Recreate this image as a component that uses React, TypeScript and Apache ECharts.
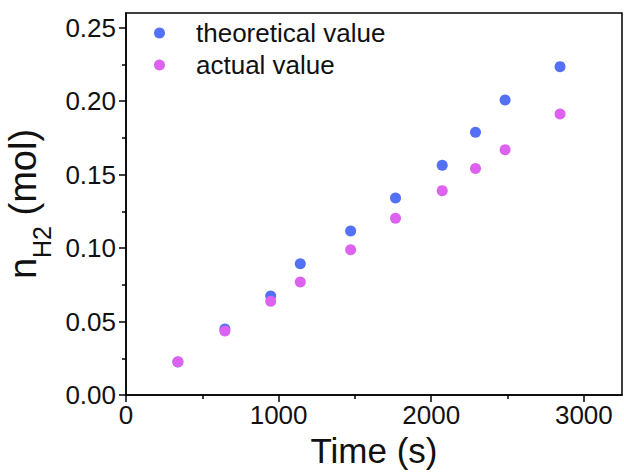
import React, { useEffect, useRef } from "react";
import * as echarts from "echarts";

const timeValues = [340, 648, 948, 1142, 1472, 1766, 2072, 2290, 2484, 2844];
const theoreticalValues = [0.0225, 0.0449, 0.0674, 0.0894, 0.1116, 0.1341, 0.1564, 0.1788, 0.2008, 0.2235];
const actualValues = [0.0227, 0.0436, 0.0638, 0.0769, 0.0989, 0.1203, 0.1391, 0.1541, 0.167, 0.1913];
const seriesNames = ["theoretical value", "actual value"];
const xMajorTicks = [0, 1000, 2000, 3000];
const xMinorTicks = [500, 1500, 2500];
const yMajorTicks = [0, 0.05, 0.1, 0.15, 0.2, 0.25];
const yMinorTicks = [0.025, 0.075, 0.125, 0.175, 0.225];

const FONT = "Liberation Sans, Arial, sans-serif";

export default function App() {
  const ref = useRef<HTMLDivElement>(null);
  useEffect(() => {
    if (!ref.current) return;
    const chart = echarts.init(ref.current, undefined, { renderer: "svg" });
    const axisLineStyle = { color: "#000", width: 1.5 };
    chart.setOption({
      animation: false,
      backgroundColor: "#fff",
      grid: {
        left: 126,
        right: 2,
        top: 13,
        bottom: 80,
        show: true,
        borderColor: "#000",
        borderWidth: 1.5,
        containLabel: false,
        outerBoundsMode: "none",
      },
      legend: {
        orient: "vertical",
        left: 154,
        top: 20,
        padding: 0,
        itemGap: 6,
        itemWidth: 11,
        itemHeight: 11,
        icon: "circle",
        data: seriesNames,
        textStyle: { fontFamily: FONT, fontSize: 26, color: "#111", lineHeight: 26, padding: [0, 0, 0, 26] },
      },
      xAxis: [
        {
          type: "value",
          min: 0,
          max: 3250,
          interval: 1000,
          splitLine: { show: false },
          axisLine: { lineStyle: axisLineStyle },
          axisTick: { inside: false, length: 7, lineStyle: axisLineStyle, customValues: xMajorTicks },
          axisLabel: {
            customValues: xMajorTicks,
            margin: 7,
            fontFamily: FONT,
            fontSize: 26,
            color: "#111",
            formatter: (v: number) => (xMajorTicks.includes(v) ? String(v) : ""),
          },
          name: "Time (s)",
          nameLocation: "middle",
          nameGap: 36,
          nameTextStyle: { fontFamily: FONT, fontSize: 35, color: "#111" },
        },
        {
          type: "value",
          min: 0,
          max: 3250,
          position: "bottom",
          splitLine: { show: false },
          axisLine: { show: false },
          axisTick: { length: 4, lineStyle: axisLineStyle, customValues: xMinorTicks },
          axisLabel: { show: false },
        },
      ],
      yAxis: [
        {
          type: "value",
          min: 0,
          max: 0.26,
          interval: 0.05,
          splitLine: { show: false },
          axisLine: { lineStyle: axisLineStyle },
          axisTick: { length: 7, lineStyle: axisLineStyle, customValues: yMajorTicks },
          axisLabel: {
            customValues: yMajorTicks,
            margin: 10,
            fontFamily: FONT,
            fontSize: 26,
            color: "#111",
            formatter: (v: number) => (v <= 0.2501 ? v.toFixed(2) : ""),
          },
          name: "{a|n}{b|H2}{a| (mol)}",
          nameLocation: "middle",
          nameGap: 72,
          nameTextStyle: {
            fontFamily: FONT,
            color: "#111",
            rich: {
              a: { fontFamily: FONT, fontSize: 38, lineHeight: 50, verticalAlign: "top", color: "#111" },
              b: { fontFamily: FONT, fontSize: 25, lineHeight: 25, verticalAlign: "bottom", color: "#111" },
            },
          },
        },
        {
          type: "value",
          min: 0,
          max: 0.26,
          position: "left",
          splitLine: { show: false },
          axisLine: { show: false },
          axisTick: { length: 4, lineStyle: axisLineStyle, customValues: yMinorTicks },
          axisLabel: { show: false },
        },
      ],
      series: [
        {
          name: seriesNames[0],
          type: "scatter",
          symbol: "circle",
          symbolSize: 11,
          itemStyle: { color: "#5470F5", opacity: 1 },
          data: timeValues.map((t, i) => [t, theoreticalValues[i]]),
        },
        {
          name: seriesNames[1],
          type: "scatter",
          symbol: "circle",
          symbolSize: 11,
          itemStyle: { color: "#DE62F0", opacity: 1 },
          data: timeValues.map((t, i) => [t, actualValues[i]]),
        },
      ],
    });
    return () => chart.dispose();
  }, []);
  return (
    <div
      ref={ref}
      style={{ position: "fixed", left: 0, top: 0, width: 624, height: 475, background: "#fff" }}
    />
  );
}
